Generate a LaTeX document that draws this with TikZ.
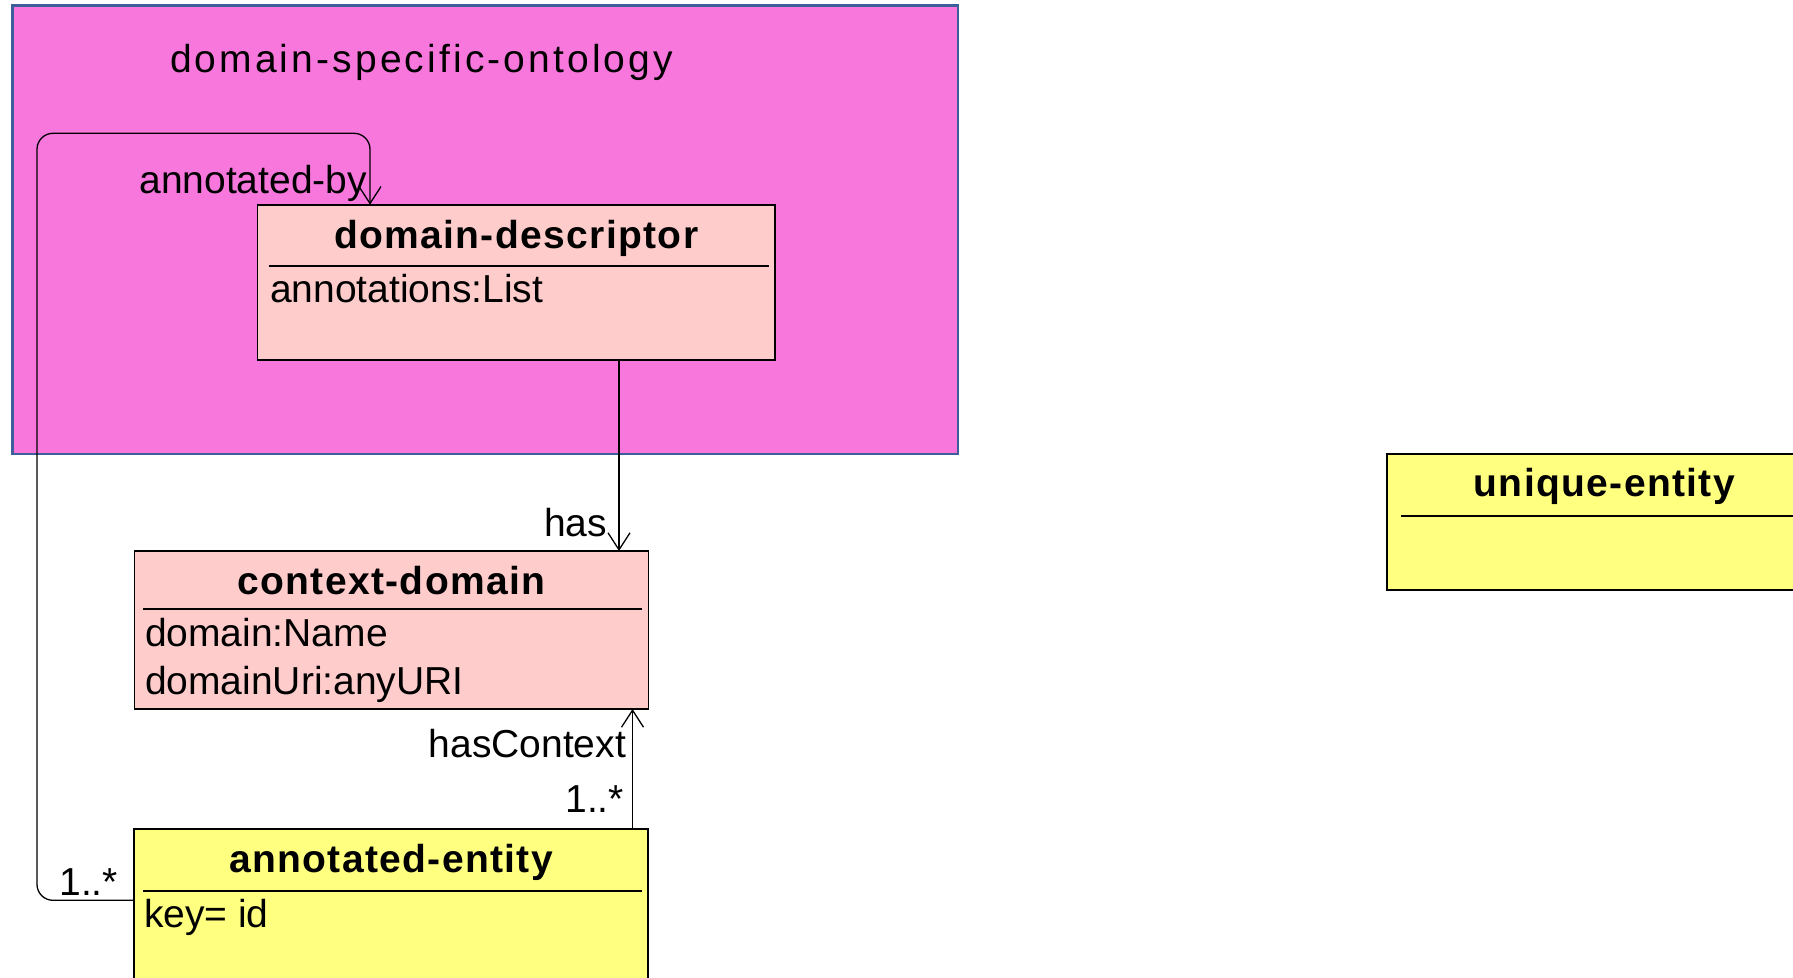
\documentclass[tikz,border=0pt]{standalone}
\usepackage{fontspec}
\setmainfont{Liberation Sans}
\usetikzlibrary{arrows.meta,calc}
\definecolor{pkgfill}{HTML}{F777DD}
\definecolor{pkgline}{HTML}{3C5E9A}
\definecolor{clspink}{HTML}{FFCCCC}
\definecolor{clsyellow}{HTML}{FFFF80}
\begin{document}
\begin{tikzpicture}[x=1pt,y=-1pt,
  every node/.style={inner sep=0pt,outer sep=0pt},
  pkgbox/.style={draw=pkgline,fill=pkgfill,line width=2.6pt,anchor=north west},
  clsbox/.style={draw=black,line width=1.8pt,anchor=north west,minimum width=514pt},
  sepline/.style={draw=black,line width=1.6pt},
  txt/.style={font=\fontsize{39}{47}\selectfont,anchor=base west},
  lbl/.style={font=\fontsize{39}{47}\selectfont,anchor=base east},
  ttl/.style={font=\fontsize{39}{47}\selectfont\bfseries\addfontfeature{LetterSpace=3.5},anchor=base},
  pkgttl/.style={font=\fontsize{39}{47}\selectfont\addfontfeature{LetterSpace=8},anchor=base west},
  conn/.style={draw=black,line width=1.3pt},
  openarrow/.style={-{Straight Barb[length=17pt,width=22pt,line width=1.3pt]}}
]
\useasboundingbox (0,0) rectangle (1793,977);
\clip (0,0) rectangle (1793,977);
\fill[white] (0,0) rectangle (1793,977);

% package
\node[pkgbox,minimum width=945.4pt,minimum height=448.3pt] (dso) at (12.6,5.7) {};
\node[pkgttl] (dsot) at (170,72.7) {domain-specific-ontology};

% domain-descriptor
\node[clsbox,fill=clspink,minimum width=517.5pt,minimum height=155.3pt] (dd) at (257.5,204.7) {};
\node[ttl] (ddt) at ($(dd.north)+(0,43.3)$) {domain-descriptor};
\draw[sepline] ([xshift=11pt,yshift=-61.3pt]dd.north west) -- ([xshift=-6pt,yshift=-61.3pt]dd.north east);
\node[txt] (dda) at (270,302) {annotations:List};

% context-domain
\node[clsbox,fill=clspink,minimum height=158pt] (cd) at (134.4,551) {};
\node[ttl] (cdt) at ($(cd.north)+(0,43)$) {context-domain};
\draw[sepline] ([xshift=9pt,yshift=-57.7pt]cd.north west) -- ([xshift=-6pt,yshift=-57.7pt]cd.north east);
\node[txt] (cda) at (145,646) {domain:Name};
\node[txt] (cdb) at (145,694) {domainUri:anyURI};

% annotated-entity
\node[clsbox,fill=clsyellow,minimum height=190pt] (ae) at (134,829) {};
\node[ttl] (aet) at ($(ae.north)+(0,43)$) {annotated-entity};
\draw[sepline] ([xshift=9pt,yshift=-62pt]ae.north west) -- ([xshift=-6pt,yshift=-62pt]ae.north east);
\node[txt] (aea) at (144,927) {key= id};

% unique-entity
\node[clsbox,fill=clsyellow,minimum width=434pt,minimum height=136pt] (ue) at (1387.3,454) {};
\node[ttl] (uet) at ($(ue.north)+(0,42)$) {unique-entity};
\draw[sepline] ([xshift=14pt,yshift=-61.7pt]ue.north west) -- ([xshift=-6pt,yshift=-61.7pt]ue.north east);

% annotated-by loop
\coordinate (loopc) at (37,133.3);
\draw[conn,openarrow,rounded corners=16pt]
  ([yshift=-71.3pt]ae.north west) -| (loopc) -| ([xshift=112.5pt]dd.north west);
\node[lbl] (lab1) at (367,193) {annotated-by};
\node[lbl] (lab2) at (118,895) {1..*};

% has
\coordinate (hs) at ([xshift=361.5pt]dd.south west);
\draw[conn,openarrow] (hs) -- (hs |- cd.north);
\node[lbl] (lab3) at (607,536) {has};

% hasContext
\coordinate (hc) at ([xshift=498.5pt]ae.north west);
\draw[conn,openarrow] (hc) -- (hc |- cd.south);
\node[lbl] (lab4) at (626,757) {hasContext};
\node[lbl] (lab5) at (624,812) {1..*};
\end{tikzpicture}
\end{document}
